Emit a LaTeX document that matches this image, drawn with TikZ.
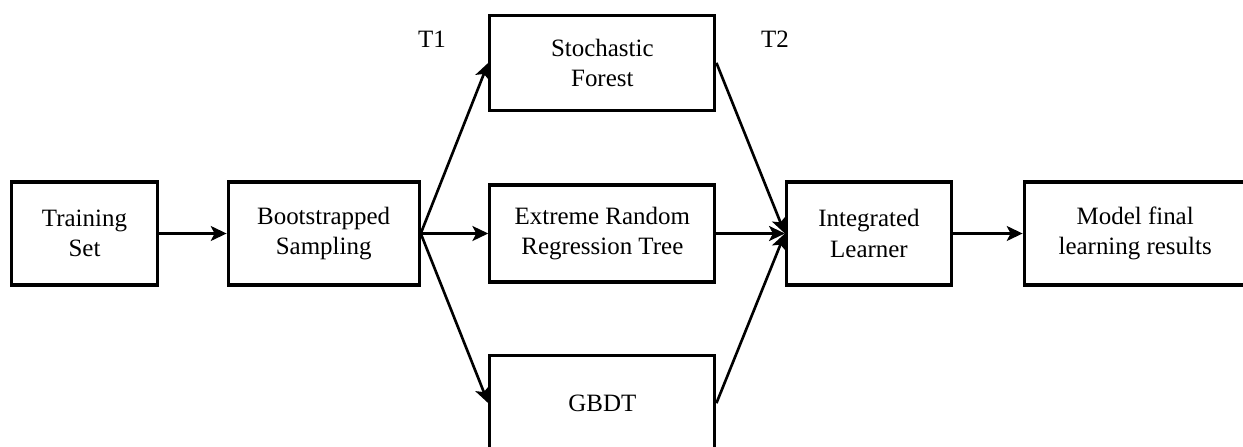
\documentclass[tikz,border=0pt]{standalone}
\usepackage{fontspec}
\setmainfont{Liberation Serif}
\usetikzlibrary{positioning,arrows.meta}

\begin{document}
\begin{tikzpicture}[node distance=1.35cm,
    box/.style={draw, rectangle, line width=1.8pt, align=center, minimum height=2.06cm, font=\fontsize{14.2}{17.4}\selectfont},
    flow/.style={-{Stealth[length=9pt, width=8.5pt, inset=2.2pt]}, line width=1.5pt},
    tag/.style={font=\fontsize{14.2}{17.4}\selectfont}]
    \clip (0,0) rectangle (24.86,-8.92);
    \node[box, minimum width=2.92cm] (train) at (1.69,-4.67) {Training\\Set};
    \node[box, minimum width=3.82cm] (boot) [right=of train] {Bootstrapped\\Sampling};
    \node[box, minimum width=4.5cm, minimum height=1.94cm] (errt) [right=of boot] {Extreme Random\\Regression Tree};
    \node[box, minimum width=4.5cm, minimum height=1.9cm] (sf) [above=1.43cm of errt] {Stochastic\\Forest};
    \node[box, minimum width=4.5cm, minimum height=1.9cm] (gbdt) [below=1.41cm of errt] {GBDT};
    \node[box, minimum width=3.3cm] (il) [right=1.37cm of errt] {Integrated\\Learner};
    \node[box, minimum width=4.44cm] (mf) [right=1.39cm of il] {Model final\\learning results};
    \node[tag] (t1) at (8.64,-0.78) {T1};
    \node[tag] (t2) at (15.5,-0.78) {T2};
    \draw[flow] (train) -- (boot);
    \foreach \m in {sf,errt,gbdt} {
        \draw[flow] (boot.east) -- (\m.west);
        \draw[flow] (\m.east) -- (il.west);
    }
    \draw[flow] (il) -- (mf);
\end{tikzpicture}
\end{document}
